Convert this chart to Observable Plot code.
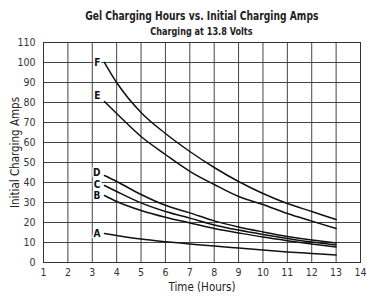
<!DOCTYPE html>
<html>
<head>
<meta charset="utf-8">
<script src="https://cdn.jsdelivr.net/npm/d3@7"></script>
<script src="https://cdn.jsdelivr.net/npm/@observablehq/plot@0.6"></script>
<style>
  html, body { margin: 0; padding: 0; background: #fff; }
  #wrap { position: relative; width: 367px; height: 299px; font-family: "Liberation Sans Narrow", "DejaVu Sans Condensed", "Liberation Sans", sans-serif; }
  .ttl { position: absolute; left: 43px; width: 317px; text-align: center; font-weight: bold; color: #222; white-space: nowrap; }
  .ttl span { display: inline-block; transform-origin: 50% 50%; }
  #title { top: 9px; font-size: 11.5px; line-height: 14px; }
  #title span { transform: scaleX(0.885); }
  #subtitle { top: 25px; font-size: 10.5px; line-height: 13px; }
  #subtitle span { transform: scaleX(0.86); }
  #chart { position: absolute; left: 0; top: 0; }
</style>
</head>
<body>
<div id="wrap">
  <div id="chart"></div>
  <div id="title" class="ttl"><span>Gel Charging Hours vs. Initial Charging Amps</span></div>
  <div id="subtitle" class="ttl"><span>Charging at 13.8 Volts</span></div>
</div>
<script>
// Data
const seriesNames = ["A", "B", "C", "D", "E", "F"];
const hours = [3.5, 4, 5, 6, 7, 8, 9, 10, 11, 12, 13];
const ampsA = [14.5, 13.5, 11.7, 10.4, 9.3, 8.2, 7.2, 6.2, 5.3, 4.5, 3.7];
const ampsB = [33.5, 30.5, 26.0, 22.6, 19.8, 17.0, 14.8, 12.7, 10.9, 9.3, 7.8];
const ampsC = [38.5, 35.5, 29.8, 25.5, 22.2, 18.8, 16.2, 14.0, 12.0, 10.2, 8.8];
const ampsD = [43.5, 40.5, 34.0, 28.6, 24.8, 20.8, 17.8, 15.3, 13.0, 11.2, 9.8];
const ampsE = [80.5, 74.5, 63.0, 54.0, 45.6, 39.0, 33.0, 29.0, 24.5, 20.7, 17.0];
const ampsF = [100, 90, 75, 64.5, 55.5, 47.5, 40.5, 34.5, 29.5, 25.5, 21.5];
const xTicks = [1, 2, 3, 4, 5, 6, 7, 8, 9, 10, 11, 12, 13, 14];
const yTicks = [0, 10, 20, 30, 40, 50, 60, 70, 80, 90, 100, 110];
const xLabel = "Time (Hours)";
const yLabel = "Initial Charging Amps";

const allAmps = [ampsA, ampsB, ampsC, ampsD, ampsE, ampsF];
const rows = [];
seriesNames.forEach((s, i) => {
  hours.forEach((h, j) => rows.push({series: s, hours: h, amps: allAmps[i][j]}));
});
const firsts = seriesNames.map((s, i) => ({series: s, hours: hours[0], amps: allAmps[i][0]}));
const labelLift = {A: 0, B: 0, C: 1, D: 3, E: 6, F: 0};

const FONT = '"Liberation Sans Narrow", "DejaVu Sans Condensed", "Liberation Sans", sans-serif';

const chart = Plot.plot({
  width: 367,
  height: 299,
  marginLeft: 43,
  marginRight: 7,
  marginTop: 42,
  marginBottom: 37,
  style: {fontFamily: FONT, fontSize: "10px", color: "#333", background: "#fff"},
  x: {domain: [1, 14]},
  y: {domain: [0, 110]},
  marks: [
    Plot.gridX(xTicks, {stroke: "#444", strokeOpacity: 1, strokeWidth: 1}),
    Plot.gridY(yTicks, {stroke: "#444", strokeOpacity: 1, strokeWidth: 1}),
    Plot.frame({stroke: "#333", strokeWidth: 1}),
    Plot.axisX(xTicks, {tickSize: 0, tickPadding: 6, fontSize: 10.5, label: null}),
    Plot.axisY(yTicks, {tickSize: 0, tickPadding: 8, fontSize: 10.5, label: null}),
    Plot.text([xLabel], {frameAnchor: "bottom", dy: 25, fontSize: 11.5, fill: "#222", lineAnchor: "middle"}),
    Plot.text([yLabel], {frameAnchor: "left", dx: -28, rotate: -90, textAnchor: "middle", fontSize: 11.5, fill: "#222"}),
    Plot.line(rows, {x: "hours", y: "amps", z: "series", curve: "monotone-x", stroke: "#111", strokeWidth: 1.5}),
    ...seriesNames.map(s => Plot.text(firsts.filter(d => d.series === s), {
      x: "hours", y: "amps", text: "series", textAnchor: "end", dx: -4, dy: -labelLift[s],
      fontWeight: "bold", fontSize: 10, fill: "#111", stroke: "white", strokeWidth: 3
    }))
  ]
});
document.getElementById("chart").appendChild(chart);
</script>
</body>
</html>
